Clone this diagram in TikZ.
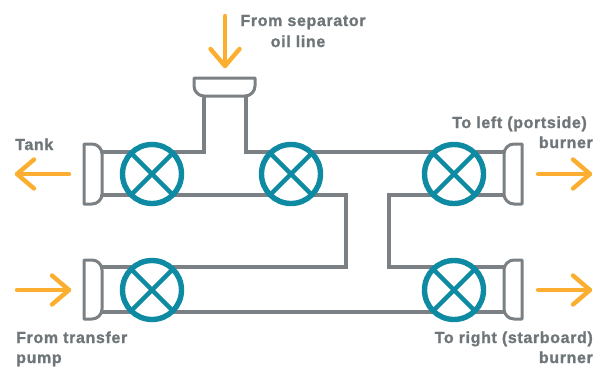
\documentclass[tikz,border=0pt]{standalone}
\usepackage{fontspec}
\setmainfont{Liberation Sans}
\usetikzlibrary{calc}
\definecolor{pipegrey}{HTML}{7A8084}
\definecolor{valveteal}{HTML}{0E8AA3}
\definecolor{flowamber}{HTML}{FBAE2F}
\definecolor{labelgrey}{HTML}{6F7679}
\tikzset{
  pipe/.style={draw=pipegrey,line width=4pt,line join=miter,line cap=butt},
  flange/.style={draw=pipegrey,line width=3pt,line join=round,fill=white},
  valve/.style={circle,draw=valveteal,line width=5.4pt,fill=white,minimum size=59pt,inner sep=0pt,outer sep=0pt,
    path picture={\draw[valveteal,line width=4.4pt]
      (path picture bounding box.south west)--(path picture bounding box.north east)
      (path picture bounding box.north west)--(path picture bounding box.south east);}},
  flow/.style={draw=flowamber,line width=4.4pt,line cap=round,line join=round},
  lbl/.style={text=labelgrey,font=\bfseries\fontsize{16}{18}\selectfont\addfontfeatures{LetterSpace=4,FakeBold=1.2},inner sep=0pt}
}
\newcommand{\headR}[1]{\draw[flow] ($(#1)+(-17,-14.5)$) -- (#1) -- ($(#1)+(-17,14.5)$);}
\newcommand{\headL}[1]{\draw[flow] ($(#1)+(17,-14.5)$) -- (#1) -- ($(#1)+(17,14.5)$);}
% vertical end flange: #1 sharp-side x, #2 rounded-side x, #3 top y, #4 bottom y, using a signed corner radius
\newcommand{\pipeflange}[4]{\pgfmathsetmacro{\fs}{(#2-#1)>0?1:-1}
  \draw[flange] (#1,#3) -- ({#2-10*\fs},#3) .. controls ({#2-4.5*\fs},#3) and (#2,{#3+4.5}) .. (#2,{#3+10})
    -- (#2,{#4-10}) .. controls (#2,{#4-4.5}) and ({#2-4.5*\fs},#4) .. ({#2-10*\fs},#4) -- (#1,#4) -- cycle;}
\begin{document}
\begin{tikzpicture}[x=1pt,y=-1pt]
\useasboundingbox (0,0) rectangle (604,367);
% pipes
\draw[pipe] (102,152) -- (204,152) -- (204,96);
\draw[pipe] (246,96) -- (246,152) -- (504,152);
\draw[pipe] (102,195) -- (346,195) -- (346,267) -- (102,267);
\draw[pipe] (102,312) -- (504,312);
\draw[pipe] (504,195) -- (389,195) -- (389,267) -- (504,267);
% flanges
\pipeflange{84}{102}{144}{204}
\pipeflange{84}{102}{260}{319}
\pipeflange{522}{504}{144}{204}
\pipeflange{522}{504}{260}{319}
\draw[flange] (194,78) -- (255,78) -- (255,86) .. controls (255,91.5) and (250.5,96) .. (245,96) -- (204,96) .. controls (198.5,96) and (194,91.5) .. (194,86) -- cycle;
% valves
\node[valve] (v1) at (152,174) {};
\node[valve] (v2) at (291,174) {};
\node[valve] (v3) at (454,174) {};
\node[valve] (v4) at (152,290) {};
\node[valve] (v5) at (454,290) {};
% flow arrows
\coordinate (a1) at (225,66); \coordinate (a1t) at (225,16);
\draw[flow] (a1t) -- (a1);
\draw[flow] ($(a1)+(-14.5,-17)$) -- (a1) -- ($(a1)+(14.5,-17)$);
\coordinate (a2) at (17,174); \coordinate (a2t) at (69,174);
\draw[flow] (a2t) -- (a2); \headL{a2}
\coordinate (a3) at (69,290); \coordinate (a3t) at (17,290);
\draw[flow] (a3t) -- (a3); \headR{a3}
\coordinate (a4) at (590,174); \coordinate (a4t) at (538,174);
\draw[flow] (a4t) -- (a4); \headR{a4}
\coordinate (a5) at (590,290); \coordinate (a5t) at (538,290);
\draw[flow] (a5t) -- (a5); \headR{a5}
% labels
\node[lbl,anchor=base] (t1) at (303,26) {From separator};
\node[lbl,anchor=base] (t2) at (298,47) {oil line};
\node[lbl,anchor=base west] (t3) at (15,150) {Tank};
\node[lbl,anchor=base east] (t4) at (587,128) {To left (portside)};
\node[lbl,anchor=base east] (t5) at (593,148) {burner};
\node[lbl,anchor=base west] (t6) at (16,343) {From transfer};
\node[lbl,anchor=base west] (t7) at (16,363) {pump};
\node[lbl,anchor=base east] (t8) at (593,343) {To right (starboard)};
\node[lbl,anchor=base east] (t9) at (593,363) {burner};
\end{tikzpicture}
\end{document}
